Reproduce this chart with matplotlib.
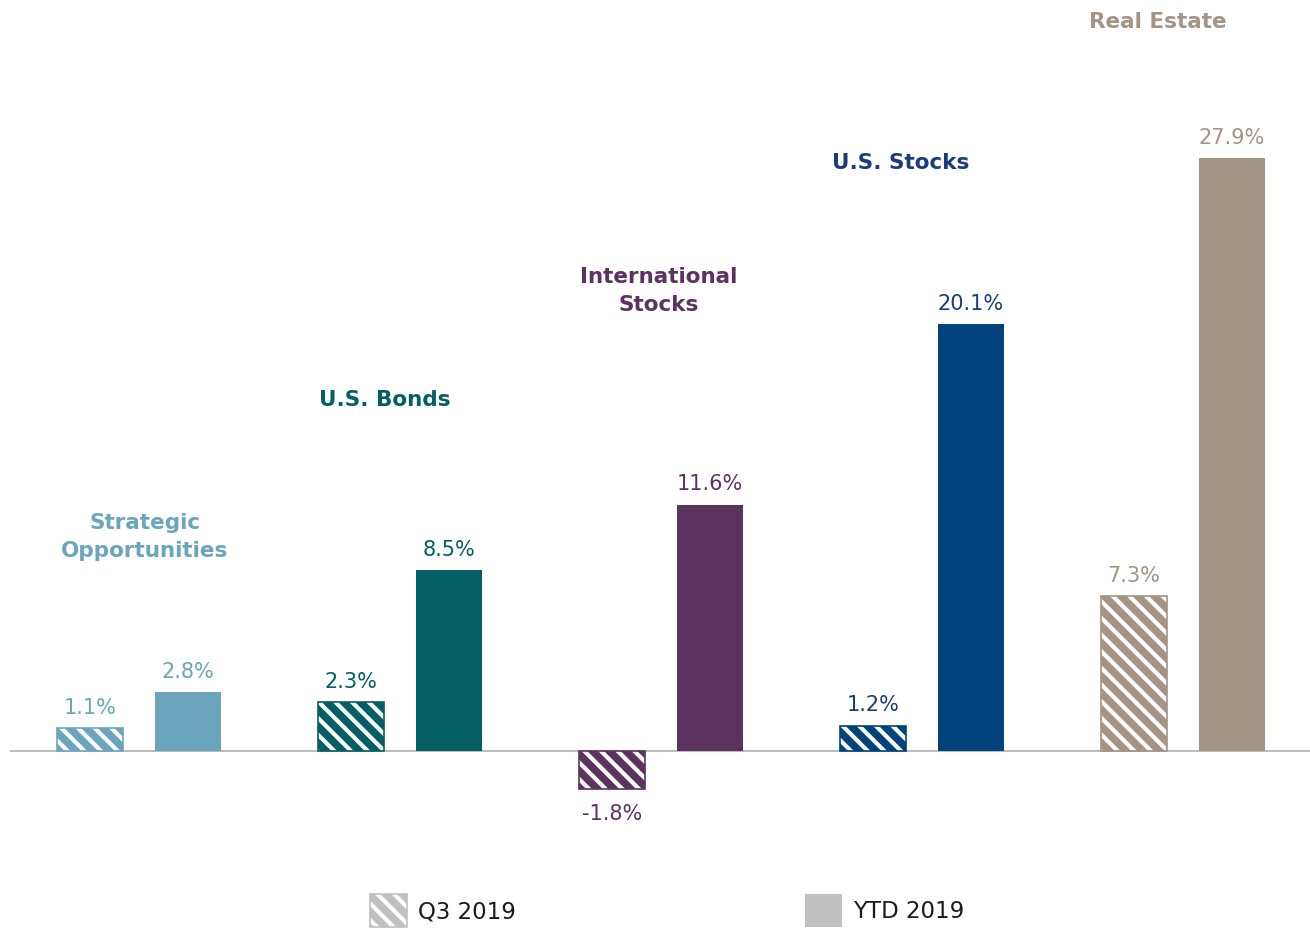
import matplotlib
matplotlib.use("Agg")
import matplotlib.pyplot as plt
from matplotlib.patches import Rectangle

plt.rcParams['font.family'] = ['DejaVu Sans']
plt.rcParams['hatch.linewidth'] = 3.0

categories = ["Strategic\nOpportunities", "U.S. Bonds", "International\nStocks", "U.S. Stocks", "Real Estate"]
q3_2019 = [1.1, 2.3, -1.8, 1.2, 7.3]
ytd_2019 = [2.8, 8.5, 11.6, 20.1, 27.9]
colors = ["#6BA5BC", "#035F64", "#5C3360", "#00437A", "#A39483"]
text_colors = ["#6BA5BC", "#035F64", "#5C3360", "#1A3C7C", "#A39483"]
legend_labels = ["Q3 2019", "YTD 2019"]

# layout (pixel-derived)
W, H = 1310, 929
px_per_group = 261.0
x0_px = 139.0
zero_px = 752.0
px_per_unit = 21.25

fig = plt.figure(figsize=(W / 100, H / 100), dpi=100)
ax = fig.add_axes([10 / W, 0, 1300 / W, 1])
ax.set_xlim((10 - x0_px) / px_per_group, (1310 - x0_px) / px_per_group)
ax.set_ylim((zero_px - H) / px_per_unit, zero_px / px_per_unit)
ax.axis('off')

off = 49 / px_per_group
bw = 66 / px_per_group
xs = list(range(len(categories)))

for i, x in enumerate(xs):
    c = colors[i]
    # hatched Q3 bar
    ax.bar(x - off, q3_2019[i], width=bw, color=c, edgecolor='white', hatch='\\\\', linewidth=0, zorder=2)
    ax.bar(x - off, q3_2019[i], width=bw, fill=False, edgecolor=c, linewidth=1.2, zorder=3)
    # solid YTD bar
    ax.bar(x + off, ytd_2019[i], width=bw, color=c, linewidth=0, zorder=2)
    # value labels
    v = q3_2019[i]
    dy = 21 / px_per_unit
    if v >= 0:
        ax.text(x - off, v + dy, f"{v:.1f}%", ha='center', va='center', fontsize=15, color=text_colors[i])
    else:
        ax.text(x - off, v - 24 / px_per_unit, f"{v:.1f}%", ha='center', va='center', fontsize=15, color=text_colors[i])
    v = ytd_2019[i]
    ax.text(x + off, v + dy, f"{v:.1f}%", ha='center', va='center', fontsize=15, color=text_colors[i])

# category labels
label_px = [(145, 537), (385, 400), (659, 291), (901, 163), (1158, 22)]
for i, (lx, ly) in enumerate(label_px):
    ax.text((lx - x0_px) / px_per_group, (zero_px - ly) / px_per_unit, categories[i],
            ha='center', va='center', fontsize=15.5, fontweight='bold', color=text_colors[i],
            linespacing=1.5)

# zero line
ax.axhline(0, color='#BDBDBD', linewidth=1.5, zorder=1)

# legend
leg_color = '#C0C0C0'
fig.patches.append(Rectangle((370 / W, 1 - 928 / H), 37 / W, 33 / H, transform=fig.transFigure,
                             facecolor=leg_color, edgecolor='white', hatch='\\\\', linewidth=0))
fig.patches.append(Rectangle((370 / W, 1 - 928 / H), 37 / W, 33 / H, transform=fig.transFigure,
                             fill=False, edgecolor=leg_color, linewidth=1.2))
fig.text(418 / W, 1 - 912 / H, legend_labels[0], ha='left', va='center', fontsize=16.5, color='#1A1A1A')
fig.patches.append(Rectangle((805 / W, 1 - 928 / H), 37 / W, 33 / H, transform=fig.transFigure,
                             facecolor=leg_color, linewidth=0))
fig.text(853 / W, 1 - 912 / H, legend_labels[1], ha='left', va='center', fontsize=16.5, color='#1A1A1A')

fig.savefig("out.png", dpi=100)
